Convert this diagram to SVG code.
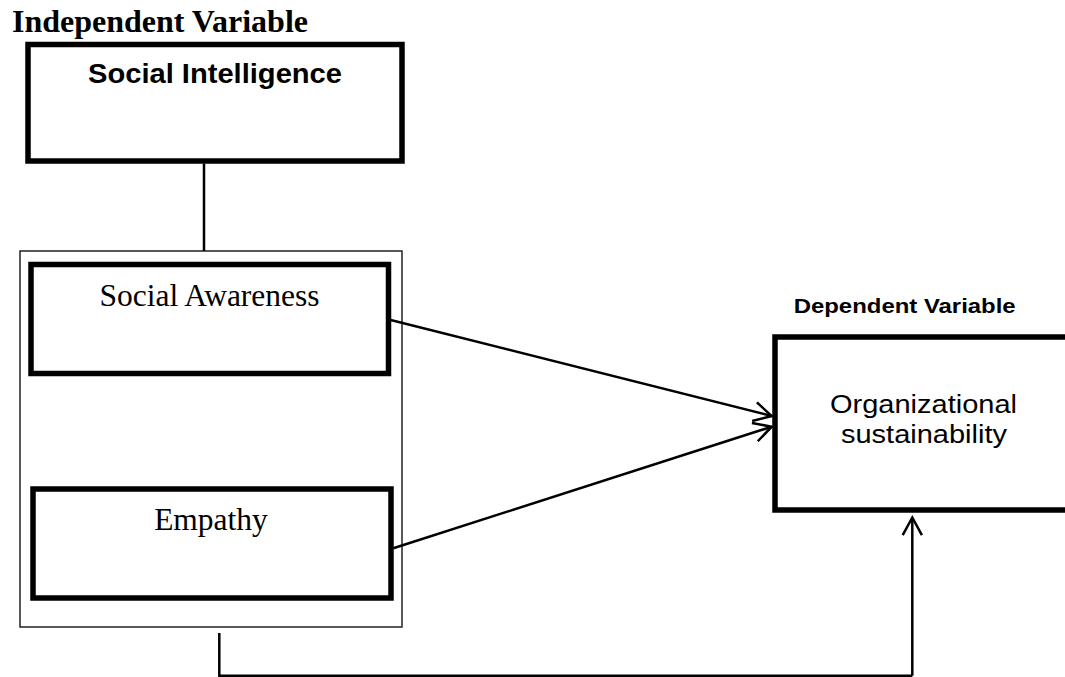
<svg xmlns="http://www.w3.org/2000/svg" width="1065" height="677" viewBox="0 0 1065 677">
  <style>
    .thick { fill: #ffffff; stroke: #000000; stroke-width: 5.5; }
    .thin { fill: #ffffff; stroke: #222222; stroke-width: 1.5; }
    .serif { font-family: "Liberation Serif", "Times New Roman", serif; fill: #000000; }
    .sans { font-family: "Liberation Sans", Arial, sans-serif; fill: #000000; }
    .conn { fill: none; stroke: #000000; stroke-width: 2.5; }
  </style>
  <defs>
    <marker id="arrow" markerUnits="userSpaceOnUse" viewBox="-22 -13 26 26" markerWidth="26" markerHeight="26" refX="0" refY="0" orient="auto">
      <path d="M -17.7 -9.6 L 0 0 L -17.7 9.6" fill="none" stroke="#000000" stroke-width="2.5" stroke-linejoin="miter"/>
    </marker>
  </defs>
  <rect width="1065" height="677" fill="#ffffff"/>

  <g id="title-independent">
    <text class="serif" x="12" y="32" font-size="30.5" font-weight="bold" textLength="296" lengthAdjust="spacingAndGlyphs">Independent Variable</text>
  </g>

  <g id="social-intelligence">
    <rect class="thick" x="28" y="44.5" width="374" height="116.5"/>
    <text class="sans" x="215" y="83" font-size="28" font-weight="bold" text-anchor="middle" textLength="254" lengthAdjust="spacingAndGlyphs">Social Intelligence</text>
  </g>

  <g id="container">
    <rect class="thin" x="20" y="251" width="382" height="376"/>
  </g>

  <g id="social-awareness">
    <rect class="thick" x="31" y="264.5" width="357.5" height="109"/>
    <text class="serif" x="209.5" y="305.5" font-size="31.5" text-anchor="middle">Social Awareness</text>
  </g>

  <g id="empathy">
    <rect class="thick" x="33" y="489" width="358" height="109"/>
    <text class="serif" x="211" y="530" font-size="31.5" text-anchor="middle">Empathy</text>
  </g>

  <g id="title-dependent">
    <text class="sans" x="904.7" y="313" font-size="21" font-weight="bold" text-anchor="middle" textLength="222" lengthAdjust="spacingAndGlyphs">Dependent Variable</text>
  </g>

  <g id="organizational-sustainability">
    <rect class="thick" x="775" y="337" width="320" height="173" stroke-width="5"/>
    <text class="sans" x="923.5" y="413" font-size="26" text-anchor="middle" textLength="187" lengthAdjust="spacingAndGlyphs">Organizational</text>
    <text class="sans" x="924" y="443" font-size="26" text-anchor="middle" textLength="166" lengthAdjust="spacingAndGlyphs">sustainability</text>
  </g>

  <g id="connectors">
    <line class="conn" x1="204" y1="163.5" x2="204" y2="251" stroke-width="1.5"/>
    <line class="conn" x1="386.7" y1="319" x2="771.7" y2="416" marker-end="url(#arrow)"/>
    <line class="conn" x1="393.3" y1="548.3" x2="771.7" y2="426.7" marker-end="url(#arrow)"/>
    <polyline class="conn" points="219.3,633 219.3,675.7 912.3,675.7" stroke-width="2"/>
    <line class="conn" x1="912.3" y1="675.7" x2="912.3" y2="517.5" marker-end="url(#arrow)"/>
  </g>
</svg>
